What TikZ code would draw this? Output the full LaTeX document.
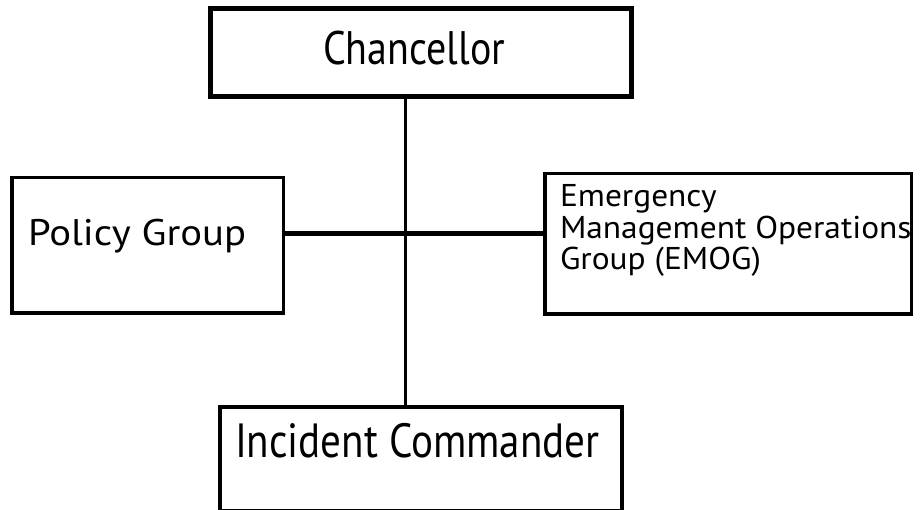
\documentclass[tikz,border=0pt]{standalone}
\usepackage{graphicx}
\usepackage{fontspec}
\setmainfont{PT Sans}
\begin{document}
\begin{tikzpicture}[x=1pt,y=-1pt,
  box/.style={draw=black, rectangle, inner sep=0pt, outer sep=0pt},
  txt/.style={inner sep=0pt, outer sep=0pt, text=black, anchor=base west},
  link/.style={draw=black, line cap=butt}]
\useasboundingbox (0,0) rectangle (923,510);
\fill[white] (0,0) rectangle (923,510);

% boxes
\node[box, line width=5pt, minimum width=421pt, minimum height=88pt] (chan) at (421,52.5) {};
\node[box, line width=3.5pt, minimum width=271.5pt, minimum height=135.5pt] (pol) at (147.5,245.5) {};
\node[box, line width=3.5pt, minimum width=366.5pt, minimum height=140.5pt] (emog) at (728,244) {};
\node[box, line width=4pt, minimum width=402pt, minimum height=104pt] (inc) at (421,459) {};

% labels
\node[txt, font=\fontsize{47}{50}\selectfont] (chantxt) at (323,65) {\scalebox{0.85}[1]{Chancellor}};
\node[txt, font=\fontsize{37}{40}\selectfont] (poltxt) at (28,246) {\scalebox{1.1}[1]{Policy Group}};
\node[txt, align=left, font=\fontsize{31.5}{31.5}\selectfont] (emogtxt) at (560,270)
  {\scalebox{1.06}[1]{Emergency}\\\scalebox{1.06}[1]{Management Operations}\\\scalebox{1.06}[1]{Group (EMOG)}};
\node[txt, font=\fontsize{48}{50}\selectfont] (inctxt) at (235,457) {\scalebox{0.855}[1]{Incident Commander}};

% connectors
\coordinate (vx) at (405.5,0);
\coordinate (hy) at (0,233.5);
\draw[link, line width=2.5pt] (chan.south -| vx) -- (inc.north -| vx);
\draw[link, line width=5pt] (pol.east |- hy) -- (emog.west |- hy);
\end{tikzpicture}
\end{document}
